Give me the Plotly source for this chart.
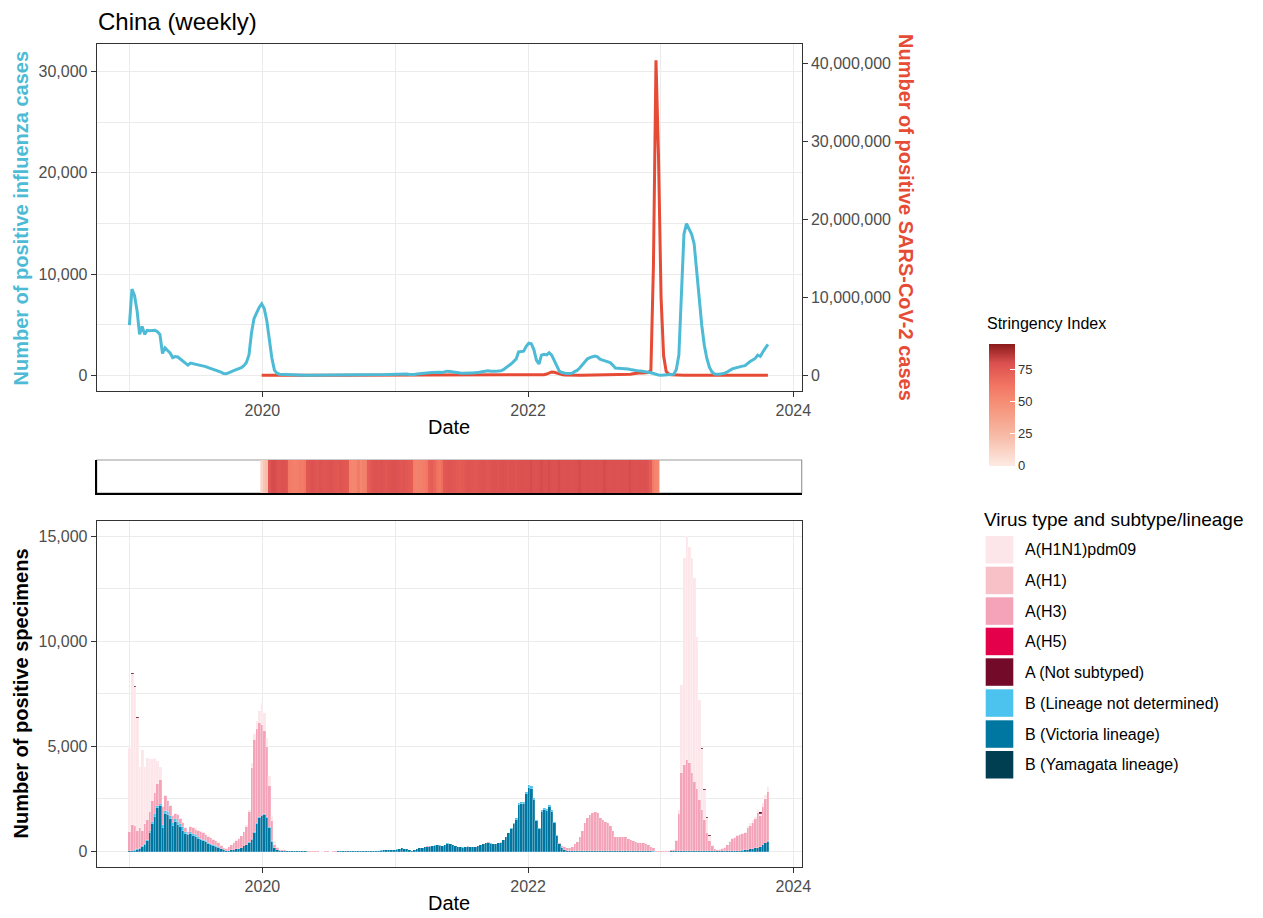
import pandas as pd
import plotly.graph_objects as go

W, H = 1263, 918
def px(x): return x / W
def py(y): return 1 - y / H

# ---------------- data ----------------
week_start = "2018-12-31"
n_weeks = 252

vic = ([20,30,50,80,120,200,300,500,900,1300, 1650,2050,2150,1100,1800,1750,1550,1200,1400,1250,
        1150,1000,850,780,850,750,700,620,560,500, 450,380,330,280,230,180,120,60,30,40,
        60,80,100,120,150,250,300,400,560,900, 1300,1600,1700,1750,1600,1100,450,150,60,30]
       + [40,30,25,20,15,10,10,5,5,5, 3,3,2,2,3,2,2,3,3,2, 3,3,4,4,5,5,6,8,8,10,
          10,12,15,15,20,25,30,35,40,50, 55,60,70,80]
       + [76,95,124,152,133,105,67,48,76,114, 152,180,200,228,238,256,285,304,285,256,
          314,380,352,304,266,218,200,190,218,228, 209,200,196,247,304,361,399,408,380,352,
          361,390,408]
       + [528,682,864,1066,1296,1526,2208,2256,2285,2736, 3043,2976,2438,1440,1066,1900,1978,1930,2131,1901,
          1373,740,340]
       + [150,80,40,30,20,20,15,15,15,15, 15,15,15,15,15,10,10,10,10,10,
          10,8,8,8,8,8,8,5,5,5, 5,5,5,5,5,5,3,2,1,1, 1,2,3,5]
       + [5,5,5,5,5,5,5,5,5,5, 5,5,5,5,5,5,5,5,5,5, 5,8,10,15,
          20,30,40,50,60,80,100,120,150,180,220,300,400,475])

blnd = ([10,10,10,20,30,50,50,60,100,100, 150,100,100,150,150,150,150,150,150,150,
         150,150,100,70,100,100,80,80,60,60, 50,40,30,20,20,20,10,10,5,5,
         10,10,10,20,20,30,30,40,40,50, 50,50,50,50,50,50,30,20,10,10]
        + [5,5,3,3,2,2,1,1,1,1, 0,0,0,0,0,0,0,0,0,0, 0,0,0,0,0,0,0,0,0,1,
           1,1,1,1,1,2,2,2,2,3, 3,3,4,4]
        + [4,5,6,8,7,5,3,2,4,6, 8,10,10,12,12,14,15,16,15,14,
           16,20,18,16,14,12,10,10,12,12, 11,10,10,13,16,19,21,22,20,18,
           19,20,22]
        + [22,28,36,44,54,64,92,94,95,114, 127,124,102,60,44,80,82,80,89,79,
           57,30,10]
        + [10,5,3,3,2,2,2,2,2,2, 2,2,2,2,2,2,2,2,2,2,
           2,1,1,1,1,1,1,1,1,1, 1,1,1,1,1,1,1,0,0,0, 0,0,0,0]
        + [0,0,0,0,0,0,0,0,0,0, 0,0,0,0,0,0,0,0,0,0, 0,0,0,0,
           2,2,3,3,4,5,6,7,8,9,10,12,15,18])

h3 = ([920,1230,1140,900,950,750,950,940,900,1000, 1000,1050,1150,850,700,500,450,350,250,350,
       250,230,150,100,200,250,270,300,330,320, 300,280,270,260,230,220,150,90,105,185,
       230,330,410,480,550,640,820,1460,3400,4350, 4500,4450,4250,3950,3350,1950,970,130,80,40]
      + [30,20,15,10,10,8,5,5,3,3, 2,2,2,2,2,1,1,1,1,1, 1,1,1,1,1,1,1,1,2,2,
         2,2,2,2,3,3,3,3,3,4, 4,4,5,5]
      + [0,0,1,1,0,0,0,0,1,1, 1,1,2,2,1,1,1,2,2,1,
         1,2,2,1,1,1,1,1,1,2, 2,2,1,1,2,2,2,2,2,2,
         2,3,3]
      + [0,0,0,0,0,0,0,0,0,0, 0,0,0,0,0,0,0,0,0,0,
         0,20,50]
      + [110,115,117,137,178,328,458,693,983,1333, 1583,1723,1833,1883,1803,1578,1488,1418,1338,1228,
         988,701,681,671,691,671,611,554,494,444, 424,414,394,344,294,234,146,48,19,9, 9,18,27,55]
      + [85,475,1795,3725,4115,4355,4195,3725,3295,2995, 2455,1975,1495,895,495,275,95,65,85,140,
         175,282,440,565,
         618,698,737,777,806,1015,1134,1253,1372,1641,1470,1808,2085,2357])

pdm09 = ([4000,7170,6610,5340,2940,3830,2740,2940,2500,1990, 1640,1100,640,50,50,50,50,50,50,50,
          50,40,50,50,50,50,50,50,50,40, 50,50,30,20,20,30,20,10,10,10,
          10,30,30,30,30,30,100,100,200,300, 350,600,1050,850,400,500,250,200,50,20]
         + [10,5,5,3,2,2,1,1,1,1, 0,0,0,0,0,0,0,0,0,0, 0,0,0,0,0,0,0,0,0,0,
            0,0,0,0,0,0,0,0,0,0, 0,0,0,0]
         + [0] * 43
         + [0] * 23
         + [0] * 44
         + [10,80,200,4190,9830,10610,10300,10220,9700,7220, 4750,2900,1420,720,260,40,20,10,10,15,
            20,30,40,50,
            60,60,70,70,80,100,110,120,130,150,100,180,200,200])

h1 = [0] * n_weeks
h5 = [0] * n_weeks
yam = [0] * n_weeks

ans_weeks = [1, 2, 3, 225, 226, 227, 228, 248]
ans_vals = [80, 80, 60, 60, 50, 40, 30, 60]

covid_start_week = 52
covid = ([100,3000,15000,25000,20000,8000,2500,800]
         + [300,200,150,100,100,80,60,50,80,100, 150,100,80,60,50,40,30,60,80,100,
            150,200,150,100,80,100,120,100,80,60, 70,80,90,100,120,150,180,200,220,250,
            300,350,400,500]
         + [600,700,500,400,300,200,150,120,100,100, 110,130,150,200,250,200,150,120,100,150,
            300,500,400,300,200,150,120,100,100,120, 150,200,300,500,600,500,400,300,250,300,
            400,500,600,800,1000,1500,2000,2500,2000,1500, 1500,1800,2000,2500,3000,3500,4000]
         + [8000,20000,60000,150000,300000,420000,380000,250000,150000,80000,40000,20000]
         + [15000,10000,8000,6000,8000,10000,15000,20000,25000,30000,
            35000,40000,30000,25000,20000,20000,25000,30000,35000,40000,
            45000,50000,60000,80000,120000,180000,250000,300000,320000,300000,
            280000,350000]
         + [600000,14000000,40400000,28000000,10000000,2500000,500000,150000,60000]
         + [30000,20000,15000,10000,8000,6000,5000,4000,3000,3000,
            4000,5000,8000,10000,12000,15000,20000,25000,30000,25000,
            20000,15000,12000,10000,8000,6000,5000,5000,4000,4000,
            3000,3000,3000,3000,3000,3000,3000,3000])

stringency_start_week = 52
stringency = ([12,18,22]
              + [78,81,81,79,78,80,79,77]
              + [60,58,57,58,60,59,62]
              + [76,78,79,78,77,79,78,77,78,79,78,77,76,78,77,76,75]
              + [55,53,54,60,52,56,58]
              + [74,76,78,79,78,79,78,76,78,79,80,79,78,77,78,76,75,74]
              + [58,56,57,58,59,62]
              + [72,74,70]
              + [64,62,66]
              + [76,77,78,77,76,75,74,75,76,78,
                 78,77,76,77,78,79,78,77,78,79,
                 79,78,79,80,79,78,79,79,78,79,
                 80,80,79,80,81,80,79,80,81,80,
                 80,81,80,79,80,81,80,79,80,80,
                 79,80,80,81,80,79,80,80,79,80,
                 80,79,80,81,80,79,80,80,79,80,
                 80,79,80,81,80,79,80,80,79,80,
                 78,74]
              + [60,55,52])

subtypes = ["A(H1N1)pdm09", "A(H1)", "A(H3)", "A(H5)", "A (Not subtyped)",
            "B (Lineage not determined)", "B (Victoria lineage)", "B (Yamagata lineage)"]
subtype_colors = ["#FDE6EA", "#F8C0C7", "#F4A3B8", "#E4004B", "#730A2A",
                  "#4BC3EE", "#0077A1", "#003F52"]

x_range = ["2018-10-02", "2024-01-24"]
flu_range = [-1558, 32728]
covid_range = [-2022000, 42480000]
spec_range = [-749, 15732]

# ---------------- derived ----------------
weeks = pd.date_range(week_start, periods=n_weeks, freq="7D")
ans = [0] * n_weeks
for w, v in zip(ans_weeks, ans_vals):
    ans[w] = v
series = {"A(H1N1)pdm09": pdm09, "A(H1)": h1, "A(H3)": h3, "A(H5)": h5,
          "A (Not subtyped)": ans, "B (Lineage not determined)": blnd,
          "B (Victoria lineage)": vic, "B (Yamagata lineage)": yam}
flu_total = [sum(s[i] for s in series.values()) for i in range(n_weeks)]
covid_weeks = weeks[covid_start_week:covid_start_week + len(covid)]
str_weeks = weeks[stringency_start_week:stringency_start_week + len(stringency)]
cmap = dict(zip(subtypes, subtype_colors))

FONT = "Liberation Sans, Arial, sans-serif"
TICKC = "#4D4D4D"
LINEC = "#333333"
GRID = "#EBEBEB"

fig = go.Figure()

# top panel: SARS-CoV-2 (main y, right) then influenza (overlay y2, left)
fig.add_trace(go.Scatter(x=covid_weeks, y=covid, mode="lines", xaxis="x", yaxis="y",
                         line=dict(color="#E64B35", width=3), showlegend=False,
                         name="SARS-CoV-2"))
fig.add_trace(go.Scatter(x=weeks, y=flu_total, mode="lines", xaxis="x", yaxis="y2",
                         line=dict(color="#4DBBD5", width=3), showlegend=False,
                         name="Influenza"))

# stringency strip
colorscale = [[0, "#FDEBE4"], [0.263, "#F7B8A3"], [0.526, "#F58D74"],
              [0.65, "#F27764"], [0.789, "#E35A54"], [0.842, "#DB5050"], [1, "#8B1A1A"]]
fig.add_trace(go.Heatmap(x=str_weeks, y=[0], z=[stringency], xaxis="x2", yaxis="y3",
                         zmin=0, zmax=95, colorscale=colorscale, showscale=True,
                         colorbar=dict(x=px(989), xanchor="left", xpad=0, ypad=0,
                                       y=py(404.5), yanchor="middle",
                                       len=122.4 / H, lenmode="fraction",
                                       thickness=26, thicknessmode="pixels",
                                       outlinewidth=0, ticks="inside", tickcolor="white",
                                       ticklen=5, tickwidth=1, tickvals=[0, 25, 50, 75],
                                       tickfont=dict(size=13, color="#333333", family=FONT))))

# stacked bars, bottom to top
stack_order = ["B (Yamagata lineage)", "B (Victoria lineage)", "B (Lineage not determined)",
               "A(H5)", "A(H3)", "A(H1)", "A(H1N1)pdm09", "A (Not subtyped)"]
for name in stack_order:
    fig.add_trace(go.Bar(x=weeks, y=series[name], xaxis="x3", yaxis="y4", name=name,
                         marker=dict(color=cmap[name],
                                     line=dict(width=0.3, color="rgba(255,255,255,0.6)")),
                         showlegend=False))

def xaxis_common(anchor):
    return dict(domain=[px(96.7), px(801.7)], anchor=anchor, type="date", range=x_range,
                tick0="2020-01-01", dtick="M24", tickformat="%Y",
                showgrid=True, gridcolor=GRID, gridwidth=1.1,
                minor=dict(dtick="M12", tick0="2019-01-01", showgrid=True,
                           gridcolor=GRID, gridwidth=0.55),
                showline=True, mirror=True, linecolor=LINEC, linewidth=1,
                ticks="outside", ticklen=5, tickcolor=LINEC,
                tickfont=dict(size=16, color=TICKC, family=FONT),
                zeroline=False, automargin=False)

fig.update_layout(
    width=W, height=H, paper_bgcolor="white", plot_bgcolor="white",
    margin=dict(l=0, r=0, t=0, b=0), barmode="stack", bargap=0,
    font=dict(family=FONT),
    xaxis=xaxis_common("y"),
    yaxis=dict(domain=[py(391), py(44)], anchor="x", side="right", range=covid_range,
               tickvals=[0, 10000000, 20000000, 30000000, 40000000], tickformat=",d",
               showgrid=False, zeroline=False, showline=True, linecolor=LINEC, linewidth=1,
               ticks="outside", ticklen=5, tickcolor=LINEC,
               tickfont=dict(size=16, color=TICKC, family=FONT), automargin=False),
    yaxis2=dict(overlaying="y", side="left", anchor="x", range=flu_range,
                tick0=0, dtick=10000, tickformat=",d",
                showgrid=True, gridcolor=GRID, gridwidth=1.1,
                minor=dict(dtick=5000, tick0=0, showgrid=True, gridcolor=GRID, gridwidth=0.55),
                zeroline=False, showline=True, linecolor=LINEC, linewidth=1,
                ticks="outside", ticklen=5, tickcolor=LINEC,
                tickfont=dict(size=16, color=TICKC, family=FONT), automargin=False),
    xaxis2=dict(domain=[px(96.7), px(801.7)], anchor="y3", type="date", range=x_range,
                showticklabels=False, showgrid=False, zeroline=False, ticks="",
                showline=True, linecolor="black", linewidth=2, automargin=False),
    yaxis3=dict(domain=[py(493), py(460)], anchor="x2", range=[-0.5, 0.5],
                showticklabels=False, showgrid=False, zeroline=False, ticks="",
                showline=True, linecolor="black", linewidth=2, automargin=False),
    xaxis3=xaxis_common("y4"),
    yaxis4=dict(domain=[py(867), py(520.7)], anchor="x3", range=spec_range,
                tick0=0, dtick=5000, tickformat=",d",
                showgrid=True, gridcolor=GRID, gridwidth=1.1,
                minor=dict(dtick=2500, tick0=0, showgrid=True, gridcolor=GRID, gridwidth=0.55),
                zeroline=False, showline=True, mirror=True, linecolor=LINEC, linewidth=1,
                ticks="outside", ticklen=5, tickcolor=LINEC,
                tickfont=dict(size=16, color=TICKC, family=FONT), automargin=False),
)

shapes = [dict(type="rect", xref="x2 domain", yref="y3 domain", x0=0, x1=1, y0=0, y1=1,
               line=dict(color="#999999", width=1.2), layer="below")]
annotations = [
    dict(text="China (weekly)", x=px(96), y=py(22), xanchor="left", yanchor="middle",
         font=dict(size=24, color="black", family=FONT)),
    dict(text="<b>Number of positive influenza cases</b>", x=px(20.5), y=py(218),
         textangle=-90, xanchor="center", yanchor="middle",
         font=dict(size=20, color="#4DBBD5", family=FONT)),
    dict(text="<b>Number of positive SARS-CoV-2 cases</b>", x=px(906), y=py(218),
         textangle=90, xanchor="center", yanchor="middle",
         font=dict(size=20, color="#E64B35", family=FONT)),
    dict(text="Date", x=px(449), y=py(427), xanchor="center", yanchor="middle",
         font=dict(size=20, color="black", family=FONT)),
    dict(text="<b>Number of positive specimens</b>", x=px(20.5), y=py(694),
         textangle=-90, xanchor="center", yanchor="middle",
         font=dict(size=20, color="black", family=FONT)),
    dict(text="Date", x=px(449), y=py(903), xanchor="center", yanchor="middle",
         font=dict(size=20, color="black", family=FONT)),
    dict(text="Stringency Index", x=px(985), y=py(323), xanchor="left", yanchor="middle",
         font=dict(size=16, color="black", family=FONT)),
    dict(text="Virus type and subtype/lineage", x=px(982), y=py(519), xanchor="left",
         yanchor="middle", font=dict(size=19, color="black", family=FONT)),
]
row_tops = [536, 566.7, 597.3, 627.7, 658.3, 689.3, 720.3, 751]
for name, col, top in zip(subtypes, subtype_colors, row_tops):
    shapes.append(dict(type="rect", xref="paper", yref="paper",
                       x0=px(985.7), x1=px(1013.3), y0=py(top + 27.5), y1=py(top),
                       fillcolor=col, line=dict(width=0)))
    annotations.append(dict(text=name, x=px(1023), y=py(top + 13.75), xanchor="left",
                            yanchor="middle", font=dict(size=16, color="black", family=FONT)))
for a in annotations:
    a.update(xref="paper", yref="paper", showarrow=False)
fig.update_layout(shapes=shapes, annotations=annotations)

fig.write_html("out.html", config={"displayModeBar": False},
               post_script="document.body.style.margin='0';document.body.style.padding='0';")
